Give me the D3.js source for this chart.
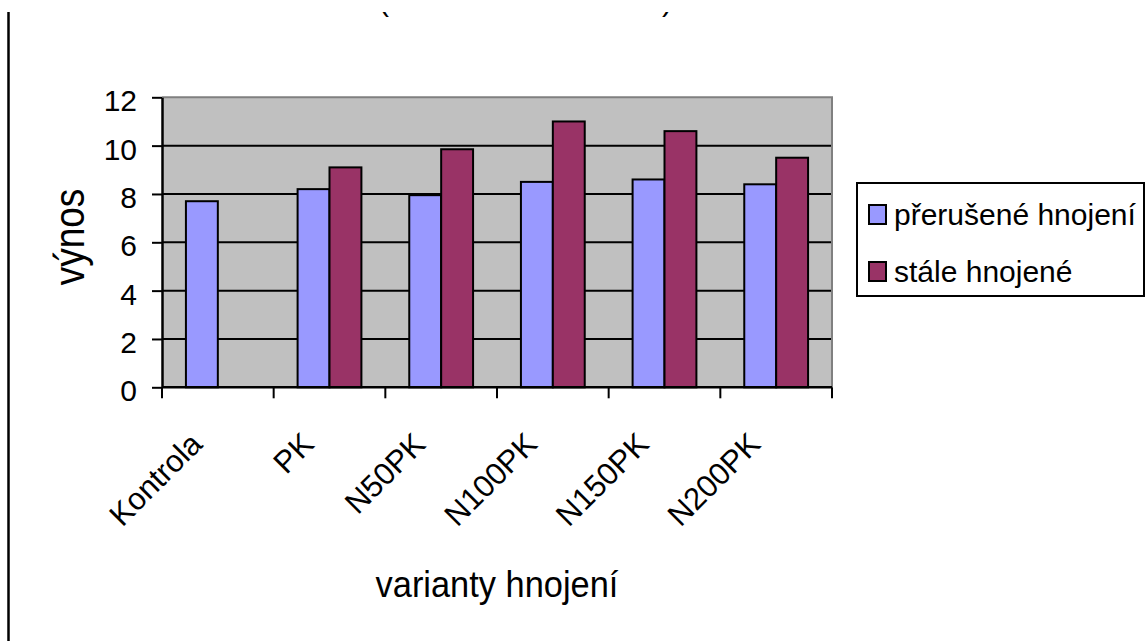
<!DOCTYPE html>
<html>
<head>
<meta charset="utf-8">
<script src="https://cdn.jsdelivr.net/npm/d3@7"></script>
<style>
  html, body { margin: 0; padding: 0; background: #fff; }
  svg { display: block; font-family: Arial, "Liberation Sans", sans-serif; }
</style>
</head>
<body>
<svg id="chart" width="1146" height="641"></svg>
<script>
// Varianty hnojení (kategorie)
const categories = ["Kontrola", "PK", "N50PK", "N100PK", "N150PK", "N200PK"];
// Série
const seriesNames = ["přerušené hnojení", "stále hnojené"];
const preruseneValues = [7.7, 8.2, 7.95, 8.5, 8.6, 8.4];
const staleValues = [null, 9.1, 9.85, 11.0, 10.6, 9.5];
const seriesColors = ["#9999FF", "#993366"];
const yTicks = [0, 2, 4, 6, 8, 10, 12];

const FONT = "Arial, 'Liberation Sans', sans-serif";
const svg = d3.select("#chart");

const plot = { left: 162, right: 832, top: 97.3, bottom: 387.3 };

const x0 = d3.scaleBand().domain(categories).range([plot.left, plot.right]).padding(0);
// 150 % gap between groups
const gapFrac = 1.5 / 7;
const x1 = d3.scaleBand().domain(seriesNames)
  .range([x0.bandwidth() * gapFrac, x0.bandwidth() * (1 - gapFrac)]).padding(0);
const y = d3.scaleLinear().domain([0, 12]).range([plot.bottom, plot.top]);

// Chart area frame (left edge)
svg.append("line").attr("x1", 8.5).attr("x2", 8.5).attr("y1", 12).attr("y2", 641)
  .attr("stroke", "#000").attr("stroke-width", 2.5);

// Title parentheses, clipped at the chart area's top edge
const defs = svg.append("defs");
defs.append("clipPath").attr("id", "titleClip")
  .append("rect").attr("x", 0).attr("y", 12).attr("width", 1146).attr("height", 40);
const titleG = svg.append("g").attr("clip-path", "url(#titleClip)")
  .style("font-size", "30px").style("font-family", FONT).attr("fill", "#000");
titleG.append("text").attr("x", 379).attr("y", 11).text("(");
titleG.append("text").attr("x", 662).attr("y", 11).text(")");

// Plot area background
svg.append("rect")
  .attr("x", plot.left).attr("y", plot.top)
  .attr("width", plot.right - plot.left).attr("height", plot.bottom - plot.top)
  .attr("fill", "#C0C0C0");

// Gridlines
svg.append("g").selectAll("line")
  .data(yTicks.filter(t => t > 0 && t < 12))
  .join("line")
  .attr("x1", plot.left).attr("x2", plot.right)
  .attr("y1", d => y(d)).attr("y2", d => y(d))
  .attr("stroke", "#000").attr("stroke-width", 2);

// Plot area border (top and right)
svg.append("path")
  .attr("d", `M${plot.left},${plot.top}H${plot.right}V${plot.bottom}`)
  .attr("fill", "none").attr("stroke", "#808080").attr("stroke-width", 2);

// Bars
const rows = categories.map((c, i) => ({ cat: c, vals: [preruseneValues[i], staleValues[i]] }));
const groups = svg.append("g").selectAll("g")
  .data(rows).join("g")
  .attr("transform", d => `translate(${x0(d.cat)},0)`);
groups.selectAll("rect")
  .data(d => d.vals.map((v, j) => ({ s: seriesNames[j], v, j })).filter(e => e.v != null))
  .join("rect")
  .attr("x", d => x1(d.s))
  .attr("width", x1.bandwidth())
  .attr("y", d => y(d.v))
  .attr("height", d => y(0) - y(d.v))
  .attr("fill", d => seriesColors[d.j])
  .attr("stroke", "#000").attr("stroke-width", 2);

// Y axis
const yAxis = d3.axisLeft(y).tickValues(yTicks).tickSize(10).tickSizeOuter(0);
const gy = svg.append("g").attr("transform", `translate(${plot.left},0)`).call(yAxis);
gy.select(".domain").attr("stroke", "#000").attr("stroke-width", 2.5);
gy.selectAll(".tick line").attr("stroke", "#000").attr("stroke-width", 2);
gy.selectAll(".tick text")
  .attr("x", -25).attr("dy", "0.45em")
  .style("font-size", "30px").style("font-family", FONT)
  .attr("fill", "#000");

// X axis (ticks between categories)
const bounds = categories.map(c => x0(c)).concat([plot.right]);
svg.append("line").attr("x1", plot.left).attr("x2", plot.right)
  .attr("y1", plot.bottom).attr("y2", plot.bottom)
  .attr("stroke", "#000").attr("stroke-width", 2.5);
svg.append("g").selectAll("line").data(bounds).join("line")
  .attr("x1", d => d).attr("x2", d => d)
  .attr("y1", plot.bottom).attr("y2", plot.bottom + 11)
  .attr("stroke", "#000").attr("stroke-width", 2);

svg.append("g").selectAll("text").data(categories).join("text")
  .attr("transform", d => `translate(${x0(d) + x0.bandwidth() / 2 - 14},446) rotate(-45)`)
  .attr("text-anchor", "end")
  .style("font-size", "31px").style("font-family", FONT)
  .attr("fill", "#000")
  .text(d => d);

// Axis titles
svg.append("text")
  .attr("transform", "translate(497,597) scale(0.93,1)")
  .attr("text-anchor", "middle")
  .style("font-size", "37px").style("font-family", FONT)
  .text("varianty hnojení");

svg.append("text")
  .attr("transform", "translate(84,237) rotate(-90) scale(0.88,1)")
  .attr("text-anchor", "middle")
  .style("font-size", "42px").style("font-family", FONT)
  .text("výnos");

// Legend
const legend = svg.append("g");
legend.append("rect")
  .attr("x", 857).attr("y", 183).attr("width", 287).attr("height", 113)
  .attr("fill", "#fff").attr("stroke", "#000").attr("stroke-width", 2);
const items = legend.selectAll("g.item").data(seriesNames).join("g")
  .attr("class", "item")
  .attr("transform", (d, i) => `translate(0,${i * 57})`);
items.append("rect")
  .attr("x", 869).attr("y", 205).attr("width", 17).attr("height", 19)
  .attr("fill", (d, i) => seriesColors[i])
  .attr("stroke", "#000").attr("stroke-width", 2);
items.append("text")
  .attr("x", 894).attr("y", 225)
  .style("font-size", "30px").style("font-family", FONT)
  .text(d => d);
</script>
</body>
</html>
